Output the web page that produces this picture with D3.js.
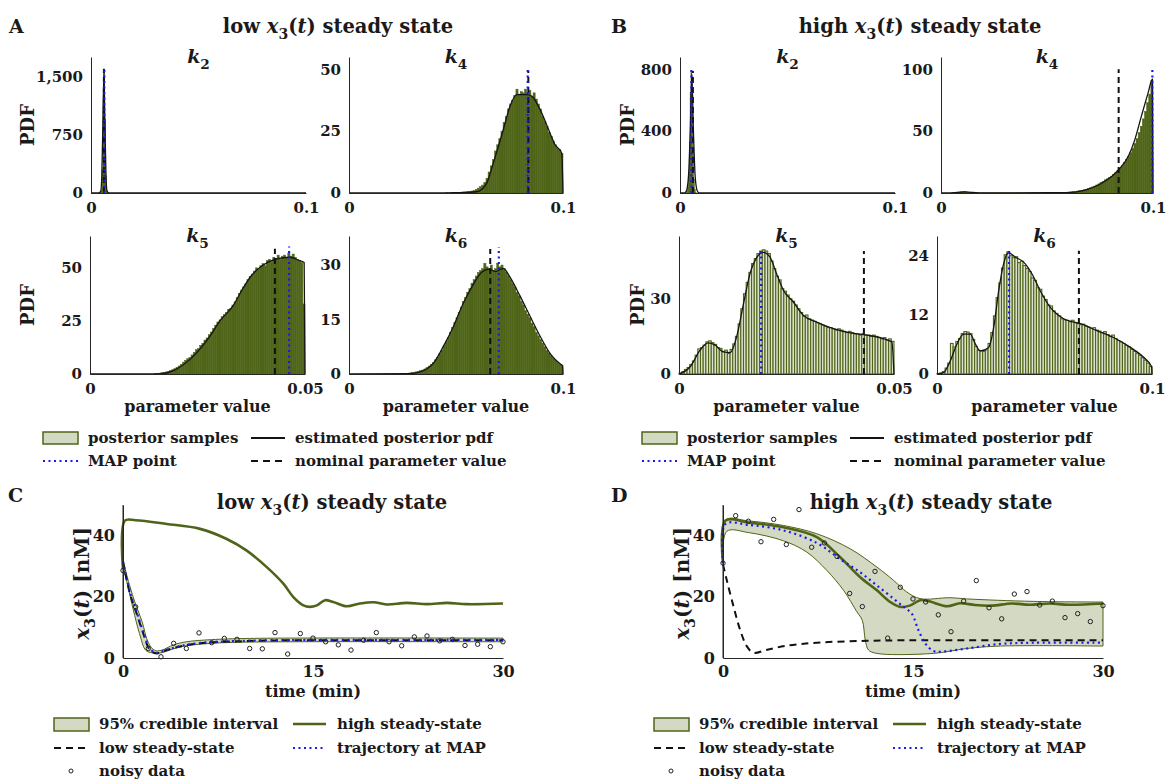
<!DOCTYPE html>
<html>
<head>
<meta charset="utf-8">
<script src="https://cdn.jsdelivr.net/npm/d3@7"></script>
<style>
  body { margin: 0; background: #fff; }
  svg text { font-family: "DejaVu Serif", serif; font-weight: bold; fill: #1a1a1a; }
</style>
</head>
<body>
<svg id="fig" width="1166" height="781"></svg>
<script>
// ====== posterior histograms (A, B) + trajectories (C, D) ======

const olive = "#4f6418";
const bandFill = "#d3d9c3";
const mapBlue = "#1a1aee";

// ---- parameters ----
const paramSub = ["2", "4", "5", "6"];
const paramMax = [0.1, 0.1, 0.05, 0.1];
const nominalValue = [0.006, 0.0838, 0.043, 0.066];
const nominalTopLow = [1600, 49.5, 59, 34.4];
const nominalTopHigh = [790, 100, 49, 25];
const mapLow = [0.0062, 0.0835, 0.0463, 0.070];
const mapTopLow = [1600, 50.5, 60, 35];
const mapHigh = [0.0053, 0.0997, 0.0191, 0.0335];
const mapTopHigh = [800, 101.5, 50, 25.5];
const yMaxLow = [1750, 55, 65, 38];
const yMaxHigh = [880, 110, 55, 28];
const yTicksLow = [[0, 750, 1500], [0, 25, 50], [0, 25, 50], [0, 15, 30]];
const yTicksHigh = [[0, 400, 800], [0, 50, 100], [0, 30], [0, 12, 24]];

// ---- histogram bins: [start, width] and heights ----
const k2LowBinStart = 0.0044, k2LowBinWidth = 0.0004;
const k2LowBins = [5, 40, 300, 1150, 1580, 950, 220, 30, 4];
const k2LowPdf = [[0, 0], [0.0035, 0], [0.0045, 20], [0.005, 200], [0.0055, 850], [0.006, 1540],
  [0.0065, 850], [0.007, 200], [0.0075, 20], [0.0085, 0], [0.1, 0]];

const k4LowBinStart = 0.045, k4LowBinWidth = 0.001;
const k4LowBins = [0.1,0.1,0.1,0.2,0.2, 0.2,0.3,0.3,0.4,0.4, 0.5,0.6,0.8,1.0,1.5, 2.0,2.6,3.2,4.3,6.0,
  8.5,11,13.5,17,19.5, 22,25,28.5,31,34, 36,37.5,39.5,42,40, 41,40.5,42,40,41.5,
  39,40.5,38,36,34, 31,29,27,24.5,23, 21,19.5,18,17.5,16];
const k4LowPdf = [[0, 0], [0.045, 0], [0.0486, 0.1], [0.0597, 0.5], [0.0643, 3.9], [0.0674, 12],
  [0.0721, 25.6], [0.0752, 35], [0.0784, 39.8], [0.083, 39.8], [0.0854, 39.2], [0.0893, 33.7],
  [0.0939, 24.3], [0.0963, 19.5], [0.0994, 16.1], [0.1, 0]];

const k5LowBinStart = 0.015, k5LowBinWidth = 0.0005;
const k5LowBins = [0.2,0.3,0.4,0.6,0.8, 1.0,1.3,1.6,2.0,2.5, 3.2,3.8,4.6,5.6,6.5, 7.2,7.8,9.0,10.2,11.5,
  12,13.5,14.5,16,17, 18.5,19.8,21.5,23,24.5, 25.5,27,28,29,30.5, 31,32.5,34,36,38,
  39.5,41,42.5,44.5,46, 47,48.5,50,49.5,51, 52,51,53.5,54,53, 55,54.5,56,54,55.5,
  56,55,57,55.5,56.5, 55,54,53.5,52.5,33];
const k5LowPdf = [[0, 0], [0.0163, 0.1], [0.0194, 1.6], [0.024, 8.3], [0.0279, 17.8], [0.0302, 25],
  [0.0333, 32.2], [0.0353, 39.4], [0.0376, 46.5], [0.0403, 51.3], [0.0434, 54.2], [0.0465, 55],
  [0.0484, 53.7], [0.0498, 52.5], [0.05, 0]];

const k6LowBinStart = 0.025, k6LowBinWidth = 0.001;
const k6LowBins = [0.1,0.2,0.2,0.3,0.4, 0.5,0.6,0.7,0.9,1.1, 1.4,1.8,2.2,2.7,3.2, 3.9,4.6,5.6,6.6,7.8,
  8.9,10,11.4,12.8,14.2, 15.5,17,18.4,20,21, 22.5,23.5,25,26,27, 28,28.5,29,30.5,29.5,
  29,30,28.5,29,30.5, 29.5,30,29,28,27, 26,25,24,22.5,21.5, 20,19,17.5,16.5,15.5,
  14,13,11.5,10.5,9.5, 8.5,7.5,6.5,5.8,5, 4.3,3.8,3.2,2.7,2.3];
const k6LowPdf = [[0, 0], [0.0286, 0.1], [0.0333, 0.6], [0.0395, 3], [0.0441, 7.6], [0.0488, 13.1],
  [0.0535, 19.6], [0.0581, 24.7], [0.062, 28], [0.0656, 28.9], [0.0683, 28.2], [0.0721, 29.1],
  [0.0753, 26.6], [0.0799, 21.5], [0.0846, 15.9], [0.0893, 10.4], [0.0939, 5.7], [0.0986, 2.8],
  [0.0998, 2.2], [0.1, 0]];

const k2HighBinStart = 0.0031, k2HighBinWidth = 0.0004;
const k2HighBins = [10, 40, 130, 330, 650, 790, 560, 260, 90, 25, 5];
const k2HighPdf = [[0, 0], [0.002, 0], [0.003, 15], [0.004, 120], [0.0048, 420], [0.0055, 770],
  [0.0062, 420], [0.007, 120], [0.008, 15], [0.009, 0], [0.1, 0]];

const k4HighBinStart = 0.005, k4HighBinWidth = 0.001;
const k4HighBins = [0.2,0.4,0.6,0.8,1.0, 1.1,1.0,0.8,0.5,0.3, 0.2,0.1,0.1,0.1,0.1,
  0.1,0.1,0.1,0.1,0.1, 0.1,0.1,0.1,0.1,0.1, 0.1,0.1,0.1,0.1,0.1, 0.1,0.2,0.1,0.1,0.1,
  0.1,0.2,0.1,0.2,0.2, 0.1,0.2,0.2,0.2,0.2,
  0.2,0.2,0.2,0.3,0.3, 0.3,0.4,0.4,0.5,0.6, 0.7,0.9,1.1,1.3,1.6, 1.9,2.2,2.6,3.1,3.7,
  4.2,4.9,5.6,6.5,7.4, 8.4,9.5,10.7,11.5,12.5, 13.5,15,16.5,18,20, 22,24.5,27,29.5,32.5,
  36,40,44,49,54, 60,66,73,80,91];
const k4HighPdf = [[0, 0], [0.005, 0.1], [0.0112, 0.9], [0.018, 0.1], [0.03, 0.1], [0.0587, 0.3],
  [0.068, 2.4], [0.0743, 6.5], [0.0805, 13.3], [0.0844, 20], [0.0883, 29.5], [0.0914, 43],
  [0.0945, 62], [0.0977, 81], [0.0997, 92], [0.1, 0]];

const k5HighBinStart = 0, k5HighBinWidth = 0.000625;
const k5HighBins = [0.3,0.9,1.8,2.6,3.8,5.2,7.5,10,10.5,11.5, 12.8,13.2,12.5,11.8,10.5,10.2,9.0,9.5,8.2,9.8,
  12,15,20,26,32,36.5,40.5,44,46,48, 49,49.5,49,48,45,42,39,37.5,34,33,
  31.5,30,29,27.5,26,24.5,23,23.5,22,21.5, 21,20.5,20,19.5,19,18.5,18.5,18,17.5,18,
  17.5,17,16.5,17,16.5,16,16,15.5,16,15.5, 15.5,15,15.5,15,14.5,14,14.5,13.5,14,13];
const k5HighPdf = [[0, 0], [0.0026, 2.9], [0.0049, 9.5], [0.0068, 12.4], [0.0084, 11.5], [0.0103, 8.8],
  [0.0119, 8.5], [0.0134, 14.8], [0.015, 28], [0.0165, 39.9], [0.0181, 46.5], [0.0196, 48.5],
  [0.0212, 46.5], [0.0227, 39.9], [0.0243, 33.3], [0.0266, 28.7], [0.0289, 23.4], [0.032, 20.7],
  [0.0359, 18.1], [0.0398, 16.4], [0.0437, 15.5], [0.0475, 14.1], [0.0495, 12.8], [0.05, 0]];

const k6HighBinStart = 0, k6HighBinWidth = 0.00125;
const k6HighBins = [0.1,0.2,0.5,1.2,2.2,6.2,5.5,6.6,7.2,8.2, 8.6,8.5,8.2,7.0,5.6,4.8,4.7,4.6,4.9,6.2,
  8.4,11.8,15.5,18.5,21.5,24.2,24.8,24.0,23.6,23.8, 22.6,22.9,22.0,21.4,20.8,19.5,19.0,17.5,17.2,15.8,
  15.1,14.0,13.8,12.8,12.3,11.8,11.2,11.0,10.9,10.6, 10.9,10.4,10.2,10.0,10.1,9.7,9.5,9.3,9.4,8.9,
  8.7,8.4,8.6,8.0,7.6,7.9,7.2,6.8,6.5,6.2, 5.8,5.5,5.0,4.6,4.2,3.8,3.3,2.8,2.2,1.5];
const k6HighPdf = [[0, 0], [0.0031, 0.3], [0.0062, 2.7], [0.0093, 6.1], [0.0124, 8.1], [0.0155, 8.1],
  [0.0178, 6.1], [0.0202, 4.7], [0.024, 5.4], [0.0264, 9.5], [0.0287, 16.9], [0.031, 22.4],
  [0.0333, 24.6], [0.0364, 23.7], [0.0403, 22.7], [0.0442, 20.3], [0.048, 16.9], [0.0527, 13.5],
  [0.0589, 11.2], [0.0667, 10.2], [0.0744, 8.8], [0.0821, 7.4], [0.0899, 5.4], [0.0961, 3.4],
  [0.0998, 1.5], [0.1, 0]];

// ---- trajectories (C, D) ----
const timeTicks = [0, 15, 30];
const concTicks = [0, 20, 40];
const sampleTimes = [0,1,2,3,4,5,6,7,8,9,10,11,12,13,14,15,16,17,18,19,20,21,22,23,24,25,26,27,28,29,30];
const noisyLow = [28.6,16.7,3.1,0.4,4.8,3.1,8.2,5.0,6.4,6.1,3.1,3.0,8.3,1.3,8.0,6.5,5.3,4.3,2.6,5.8,
  8.3,5.3,4.0,6.9,7.2,5.6,6.1,4.1,4.5,3.7,5.3];
const noisyHigh = [31.0,46.5,44.7,38.0,45.3,37.1,48.5,36.2,37.6,33.2,21.1,16.8,28.3,6.5,23.1,19.3,18.3,
  14.1,8.6,18.6,25.3,16.4,12.8,20.9,21.7,17.3,18.6,13.2,14.5,11.9,17.1];

const highStateC = [[0, 29], [0.15, 44.9], [1, 45], [3.45, 43.8], [6.08, 42.2], [8.19, 38.9], [9.77, 35.1],
  [11.35, 29.7], [12.66, 24.3], [13.45, 19.9], [14.24, 17.2], [14.76, 16.7], [15.3, 17.2], [15.95, 18.9],
  [16.6, 18.3], [17.66, 16.9], [18.7, 17.8], [19.8, 18.2], [20.8, 17.5], [22.4, 18], [24, 17.6],
  [25.6, 18], [27.1, 17.6], [30, 17.8]];
const lowStateC = [[0, 31.5], [0.55, 21], [1.08, 14.5], [1.6, 8], [2.13, 2.6], [2.66, 1.5], [3.45, 2.6],
  [4.76, 4], [6.6, 5], [8.7, 5.4], [11.35, 5.7], [15, 5.8], [30, 5.8]];
const mapC = [[0, 31.5], [0.55, 21.5], [1.08, 15], [1.6, 8.5], [2.13, 3], [2.66, 1.7], [3.45, 2.7],
  [4.76, 4.1], [6.6, 5.1], [8.7, 5.5], [11.35, 5.8], [15, 5.9], [30, 5.9]];
const bandUpperC = [[0, 32], [0.5, 24], [1, 17.5], [1.5, 12], [2, 5], [2.5, 2.5], [3, 2.5], [4, 4.3],
  [5, 5.3], [7, 6.0], [10, 6.4], [30, 6.5]];
const bandLowerC = [[0, 30], [0.3, 25], [0.8, 16], [1.3, 8], [1.8, 2.5], [2.3, 1.7], [3, 1.7], [4, 3],
  [5, 4], [7, 4.8], [10, 5.2], [30, 5.3]];

const highStateD = [[0, 31], [0.2, 44.9], [2, 44.3], [4.78, 42.7], [7.41, 39.5], [9.25, 32.9], [10.83, 26.4],
  [12.15, 22.1], [13.2, 18.3], [13.99, 16.7], [14.8, 17.2], [15.56, 18.9], [16.2, 18.6], [17.7, 16.9],
  [18.7, 17.9], [19.9, 17.3], [21.2, 17.1], [22.8, 17.8], [24.2, 17.4], [25.8, 17.8], [27.3, 17.4], [30, 17.8]];
const lowStateD = [[0, 30.6], [0.3, 25.4], [0.84, 16.7], [1.36, 9.1], [1.9, 3.7], [2.41, 1.7], [3.4, 2.6],
  [5, 4], [7.4, 5], [11.3, 5.6], [15, 5.8], [30, 5.8]];
const mapD = [[0, 31], [0.2, 43.8], [2, 43.5], [4.78, 41.7], [7.41, 37.6], [9.25, 32.3], [10.83, 28],
  [12.15, 23.7], [13.46, 19.4], [14.25, 16.7], [14.9, 14.5], [15.43, 9.1], [15.96, 4.8], [16.6, 2.3],
  [17.3, 2.1], [19.25, 3.1], [21.9, 4.6], [24.5, 5.0], [30, 5.0]];
const bandUpperD = [[0, 31], [0.2, 45.1], [2, 44.8], [4.78, 43.3], [7.41, 40.6], [10.04, 35.7], [12.15, 29.7],
  [13.46, 25.4], [14.5, 21.6], [15.56, 19.4], [17.9, 19.7], [19.3, 19.3], [24.5, 18.5], [30, 18.3]];
const bandLowerD = [[0, 31], [0.3, 41.4], [2, 41], [4.78, 38.3], [6.62, 34.6], [8.2, 28.6], [9.52, 22.1],
  [10.57, 15.1], [11.0, 12.3], [11.23, 5.9], [11.49, 2.6], [12.15, 1.5], [16.6, 1.5], [19.25, 3.1],
  [21.9, 3.9], [30, 3.9]];

// ====== drawing ======
const svg = d3.select("#fig");

function mathText(parent, x, y, parts, size, anchor) {
  const t = parent.append("text")
      .attr("x", x).attr("y", y)
      .attr("font-size", size)
      .attr("text-anchor", anchor || "middle");
  let shift = 0;
  parts.forEach(p => {
    const s = t.append("tspan").text(p.t);
    const target = p.sub ? size * 0.3 : 0;
    if (target !== shift) { s.attr("dy", target - shift); shift = target; }
    if (p.it) s.attr("font-style", "italic");
    if (p.sub) s.attr("font-size", size * 0.72);
  });
  return t;
}

function stateTitle(word) {
  return [{t: word + " "}, {t: "x", it: true}, {t: "3", sub: true}, {t: "("}, {t: "t", it: true}, {t: ") steady state"}];
}

// layout of the 8 histogram panels
const histLayout = [
  // [left, right, top, bottom, pdfLabelX]
  [[91, 306, 57, 193, 34], [349, 563, 57, 193, null], [90, 305, 236, 374, 34], [349, 563, 236, 374, null]],
  [[680, 895, 57, 193, 634], [941, 1153, 57, 193, null], [679, 894, 236, 374, 644], [937, 1152, 236, 374, null]]
];

const lowHist = [
  {start: k2LowBinStart, width: k2LowBinWidth, bins: k2LowBins, pdf: k2LowPdf},
  {start: k4LowBinStart, width: k4LowBinWidth, bins: k4LowBins, pdf: k4LowPdf},
  {start: k5LowBinStart, width: k5LowBinWidth, bins: k5LowBins, pdf: k5LowPdf},
  {start: k6LowBinStart, width: k6LowBinWidth, bins: k6LowBins, pdf: k6LowPdf}
];
const highHist = [
  {start: k2HighBinStart, width: k2HighBinWidth, bins: k2HighBins, pdf: k2HighPdf},
  {start: k4HighBinStart, width: k4HighBinWidth, bins: k4HighBins, pdf: k4HighPdf},
  {start: k5HighBinStart, width: k5HighBinWidth, bins: k5HighBins, pdf: k5HighPdf},
  {start: k6HighBinStart, width: k6HighBinWidth, bins: k6HighBins, pdf: k6HighPdf}
];

function drawHist(h, i, lay, yMax, yTicks, mapVal, mapTop, nomTop, dense) {
  const [left, right, top, bottom, pdfX] = lay;
  const x = d3.scaleLinear().domain([0, paramMax[i]]).range([left, right]);
  const y = d3.scaleLinear().domain([0, yMax]).range([bottom, top]);
  const g = svg.append("g");
  const bw = x(h.width) - x(0);

  g.selectAll("rect.bar")
    .data(h.bins)
    .join("rect")
      .attr("class", "bar")
      .attr("x", (d, j) => x(h.start + j * h.width))
      .attr("y", d => y(d))
      .attr("width", bw)
      .attr("height", d => y(0) - y(d))
      .attr("fill", dense ? olive : "#dde2cf")
      .attr("stroke", olive)
      .attr("stroke-width", dense ? 0.5 : 1.1);

  const line = d3.line().x(d => x(d[0])).y(d => y(d[1])).curve(d3.curveMonotoneX);
  g.append("path").datum(h.pdf)
    .attr("d", line)
    .attr("fill", "none").attr("stroke", "#151515").attr("stroke-width", 1.3);

  // nominal (dashed) then MAP (dotted)
  g.append("line")
    .attr("x1", x(nominalValue[i])).attr("x2", x(nominalValue[i]))
    .attr("y1", y(0)).attr("y2", y(nomTop))
    .attr("stroke", "#111").attr("stroke-width", 2).attr("stroke-dasharray", "6,4");
  g.append("line")
    .attr("x1", x(mapVal)).attr("x2", x(mapVal))
    .attr("y1", y(0)).attr("y2", y(mapTop))
    .attr("stroke", mapBlue).attr("stroke-width", 2.2).attr("stroke-dasharray", "2,3.5");

  // axes
  const ya = g.append("g").attr("transform", `translate(${left},0)`)
    .call(d3.axisLeft(y).tickValues(yTicks).tickSize(0).tickPadding(8).tickFormat(d3.format(",")));
  const xa = g.append("g").attr("transform", `translate(0,${bottom})`)
    .call(d3.axisBottom(x).tickValues([0, paramMax[i]]).tickSize(0).tickPadding(9).tickFormat(d3.format("")));
  [ya, xa].forEach(a => {
    a.attr("font-family", null).attr("font-size", 15);
    a.select(".domain").attr("stroke", "#262626").attr("stroke-width", 1);
    a.selectAll("text").attr("fill", "#1a1a1a");
  });

  mathText(g, (left + right) / 2, top + 6, [{t: "k", it: true}, {t: paramSub[i], sub: true}], 19);

  if (pdfX !== null) {
    g.append("text")
      .attr("transform", `translate(${pdfX},${(top + bottom) / 2}) rotate(-90)`)
      .attr("text-anchor", "middle").attr("font-size", 18)
      .text("PDF");
  }
  if (i >= 2) {
    g.append("text")
      .attr("x", (left + right) / 2).attr("y", 412)
      .attr("text-anchor", "middle").attr("font-size", 16)
      .text("parameter value");
  }
}

lowHist.forEach((h, i) => drawHist(h, i, histLayout[0][i], yMaxLow[i], yTicksLow[i], mapLow[i], mapTopLow[i], nominalTopLow[i], true));
highHist.forEach((h, i) => drawHist(h, i, histLayout[1][i], yMaxHigh[i], yTicksHigh[i], mapHigh[i], mapTopHigh[i], nominalTopHigh[i], i < 2));

// panel headers
svg.append("text").attr("x", 9).attr("y", 33).attr("font-size", 19).text("A");
mathText(svg, 338, 33, stateTitle("low"), 19.5);
svg.append("text").attr("x", 611).attr("y", 33).attr("font-size", 19).text("B");
mathText(svg, 920, 33, stateTitle("high"), 19.5);

// histogram legends
function histLegend(dx) {
  const g = svg.append("g").attr("transform", `translate(${dx},0)`).attr("font-size", 15);
  g.append("rect").attr("x", 43).attr("y", 432).attr("width", 35).attr("height", 12)
    .attr("fill", bandFill).attr("stroke", olive).attr("stroke-width", 1.5);
  g.append("text").attr("x", 88).attr("y", 443).text("posterior samples");
  g.append("line").attr("x1", 251).attr("x2", 285).attr("y1", 438).attr("y2", 438)
    .attr("stroke", "#151515").attr("stroke-width", 2);
  g.append("text").attr("x", 295).attr("y", 443).text("estimated posterior pdf");
  g.append("line").attr("x1", 43).attr("x2", 78).attr("y1", 461).attr("y2", 461)
    .attr("stroke", mapBlue).attr("stroke-width", 2).attr("stroke-dasharray", "2,3.5");
  g.append("text").attr("x", 88).attr("y", 466).text("MAP point");
  g.append("line").attr("x1", 251).attr("x2", 285).attr("y1", 461).attr("y2", 461)
    .attr("stroke", "#111").attr("stroke-width", 2).attr("stroke-dasharray", "7,5");
  g.append("text").attr("x", 295).attr("y", 466).text("nominal parameter value");
}
histLegend(0);
histLegend(599);

// trajectory panels
function drawTraj(left, right, letterX, titleX, word, band, high, low, map, noisy) {
  const top = 505, bottom = 658;
  const x = d3.scaleLinear().domain([0, 30]).range([left, right]);
  const y = d3.scaleLinear().domain([0, 50]).range([bottom, top]);
  const g = svg.append("g");
  const cr = d3.line().x(d => x(d[0])).y(d => y(d[1])).curve(d3.curveCatmullRom.alpha(0.5));

  // 95% band as closed outline: upper forward, lower backward
  const upperPath = cr(band[0]);
  const lowerPath = cr(band[1].slice().reverse());
  g.append("path")
    .attr("d", upperPath + "L" + lowerPath.slice(1) + "Z")
    .attr("fill", bandFill).attr("stroke", olive).attr("stroke-width", 1);

  g.append("path").datum(high).attr("d", cr)
    .attr("fill", "none").attr("stroke", olive).attr("stroke-width", 2.6);
  g.append("path").datum(low).attr("d", cr)
    .attr("fill", "none").attr("stroke", "#111").attr("stroke-width", 2).attr("stroke-dasharray", "7,5");
  g.append("path").datum(map).attr("d", cr)
    .attr("fill", "none").attr("stroke", mapBlue).attr("stroke-width", 2.2).attr("stroke-dasharray", "2,3.5");

  g.selectAll("circle.obs")
    .data(noisy)
    .join("circle")
      .attr("class", "obs")
      .attr("cx", (d, j) => x(sampleTimes[j]))
      .attr("cy", d => y(d))
      .attr("r", 2.2)
      .attr("fill", "none").attr("stroke", "#222").attr("stroke-width", 1);

  const ya = g.append("g").attr("transform", `translate(${left},0)`)
    .call(d3.axisLeft(y).tickValues(concTicks).tickSize(0).tickPadding(8));
  const xa = g.append("g").attr("transform", `translate(0,${bottom})`)
    .call(d3.axisBottom(x).tickValues(timeTicks).tickSize(0).tickPadding(8));
  [ya, xa].forEach(a => {
    a.attr("font-family", null).attr("font-size", 16);
    a.select(".domain").attr("stroke", "#262626").attr("stroke-width", 1);
    a.selectAll("text").attr("fill", "#1a1a1a");
  });
  // y-axis extends to top of box
  g.append("line").attr("x1", left).attr("x2", left).attr("y1", y(50)).attr("y2", y(0))
    .attr("stroke", "#262626");

  g.append("text").attr("x", (left + right) / 2).attr("y", 697)
    .attr("text-anchor", "middle").attr("font-size", 16).text("time (min)");
  const yl = mathText(g, 0, 0, [{t: "x", it: true}, {t: "3", sub: true}, {t: "("}, {t: "t", it: true}, {t: ") [nM]"}], 20);
  yl.attr("transform", `translate(${left - 34},${(top + bottom) / 2 + 2}) rotate(-90)`);

  svg.append("text").attr("x", letterX).attr("y", 502).attr("font-size", 19).text(word === "low" ? "C" : "D");
  mathText(svg, titleX, 509, stateTitle(word), 19.5);
}

drawTraj(123, 503, 8, 332, "low", [bandUpperC, bandLowerC], highStateC, lowStateC, mapC, noisyLow);
drawTraj(723, 1103, 611, 931, "high", [bandUpperD, bandLowerD], highStateD, lowStateD, mapD, noisyHigh);

// trajectory legends
function trajLegend(dx) {
  const g = svg.append("g").attr("transform", `translate(${dx},0)`).attr("font-size", 15);
  g.append("rect").attr("x", 54).attr("y", 718).attr("width", 35).attr("height", 13)
    .attr("fill", bandFill).attr("stroke", olive).attr("stroke-width", 1.5);
  g.append("text").attr("x", 99).attr("y", 729).text("95% credible interval");
  g.append("line").attr("x1", 293).attr("x2", 326).attr("y1", 724).attr("y2", 724)
    .attr("stroke", olive).attr("stroke-width", 2.5);
  g.append("text").attr("x", 337).attr("y", 729).text("high steady-state");
  g.append("line").attr("x1", 54).attr("x2", 89).attr("y1", 748).attr("y2", 748)
    .attr("stroke", "#111").attr("stroke-width", 2).attr("stroke-dasharray", "7,5");
  g.append("text").attr("x", 99).attr("y", 753).text("low steady-state");
  g.append("line").attr("x1", 293).attr("x2", 326).attr("y1", 748).attr("y2", 748)
    .attr("stroke", mapBlue).attr("stroke-width", 2).attr("stroke-dasharray", "2,3.5");
  g.append("text").attr("x", 337).attr("y", 753).text("trajectory at MAP");
  g.append("circle").attr("cx", 71).attr("cy", 771).attr("r", 2)
    .attr("fill", "none").attr("stroke", "#222").attr("stroke-width", 1);
  g.append("text").attr("x", 99).attr("y", 776).text("noisy data");
}
trajLegend(0);
trajLegend(600);
</script>
</body>
</html>
